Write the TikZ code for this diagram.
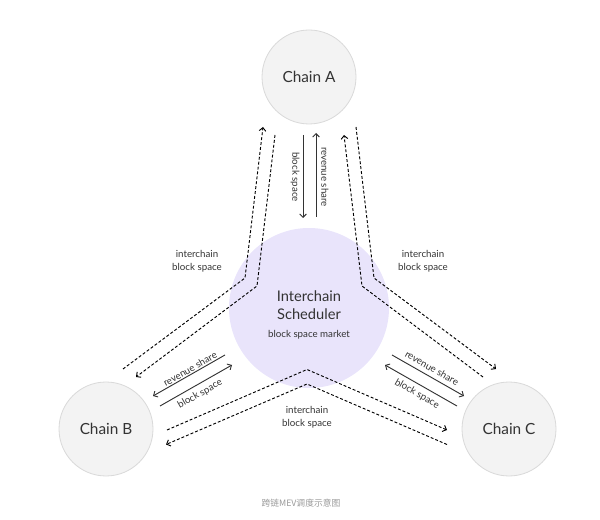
\documentclass[tikz,border=0pt]{standalone}
\usepackage{fontspec}
\setmainfont{Lato}
\newfontfamily\cjkfont{Noto Sans CJK SC}
\usepackage{tikz}
\usetikzlibrary{arrows.meta,positioning,calc}
\definecolor{chainfill}{HTML}{F3F3F3}
\definecolor{chainline}{HTML}{D9D9D9}
\definecolor{hubfill}{HTML}{E9E4FB}
\definecolor{ink}{HTML}{333333}
\definecolor{capt}{HTML}{999999}

\begin{document}
\begin{tikzpicture}[
  x=0.75pt,y=-0.75pt,
  font=\fontsize{7}{9}\selectfont,
  every node/.style={align=center,text=ink},
  chain/.style={circle,draw=chainline,fill=chainfill,line width=0.6pt,
               minimum size=70.5pt,inner sep=0pt,font=\fontsize{11.5}{14}\selectfont},
  hub/.style={circle,fill=hubfill,minimum size=120pt,inner sep=0pt},
  arr/.style={-{Straight Barb[length=2.5pt,width=5pt]},line width=0.7pt,ink},
  xfer/.style={-{Straight Barb[length=2.5pt,width=5pt]},line width=0.7pt,black,
               dash pattern=on 2.2pt off 1.5pt},
  lbl/.style={font=\fontsize{7.3}{9.6}\selectfont}
]
\useasboundingbox (0,0) rectangle (600,520);

% Nodes
\node[hub] (hub) at (309,308) {};
\node[font=\fontsize{11}{13.5}\selectfont] (hubname) at (309,305) {Interchain\\Scheduler};
\node[lbl] (market) at (309,335) {block space market};

\node[chain] (cA) at (309,77)  {Chain A};
\node[chain] (cB) at (106,429) {Chain B};
\node[chain] (cC) at (509,429) {Chain C};

% LEFT: A <-> B interchain block space
\coordinate (abB) at (123,369); \coordinate (abK) at (245,278); \coordinate (abA) at (263,127);
\coordinate (baA) at (275,135); \coordinate (baK) at (257,286); \coordinate (baB) at (136,377);
\draw[xfer] (abB) -- (abK) -- (abA);
\draw[xfer] (baA) -- (baK) -- (baB);
\node[lbl] (abtxt) at (197,261) {interchain\\block space};

% RIGHT: A <-> C interchain block space
\coordinate (acA) at (356,127); \coordinate (acK) at (374,278); \coordinate (acC) at (496,369);
\coordinate (caC) at (483,377); \coordinate (caK) at (362,286); \coordinate (caA) at (344,135);
\draw[xfer] (acA) -- (acK) -- (acC);
\draw[xfer] (caC) -- (caK) -- (caA);
\node[lbl] (actxt) at (423,261) {interchain\\block space};

% BOTTOM: B <-> C interchain block space
\coordinate (bcB) at (167,430);   \coordinate (bcK) at (307,369.5); \coordinate (bcC) at (447,430);
\coordinate (cbC) at (447,444.5); \coordinate (cbK) at (307,384);   \coordinate (cbB) at (166,444.5);
\draw[xfer] (bcB) -- (bcK) -- (bcC);
\draw[xfer] (cbC) -- (cbK) -- (cbB);
\node[lbl] (bctxt) at (307,417) {interchain\\block space};

% Scheduler <-> chains
\coordinate (aBs1) at (303,135); \coordinate (aBs2) at (303,218);
\coordinate (aRs1) at (316,217); \coordinate (aRs2) at (316,133);
\draw[arr] (aBs1) -- (aBs2);
\draw[arr] (aRs1) -- (aRs2);
\node[lbl,rotate=-90] (aBtxt) at (295,177) {block space};
\node[lbl,rotate=-90] (aRtxt) at (325,177) {revenue share};

\coordinate (bRs1) at (225,355); \coordinate (bRs2) at (153,396);
\coordinate (bBs1) at (160,406); \coordinate (bBs2) at (232,365);
\draw[arr] (bRs1) -- (bRs2);
\draw[arr] (bBs1) -- (bBs2);
\node[lbl,rotate=29.7] (bRtxt) at (190,369) {revenue share};
\node[lbl,rotate=29.7] (bBtxt) at (200,394) {block space};

\coordinate (cRs1) at (392,355); \coordinate (cRs2) at (464,396);
\coordinate (cBs1) at (457,406); \coordinate (cBs2) at (385,365);
\draw[arr] (cRs1) -- (cRs2);
\draw[arr] (cBs1) -- (cBs2);
\node[lbl,rotate=-29.7] (cRtxt) at (432,368) {revenue share};
\node[lbl,rotate=-29.7] (cBtxt) at (417,394) {block space};

% Caption
\node[font=\cjkfont\fontsize{6.6}{8}\selectfont,text=capt] (cap) at (301,503) {跨链MEV调度示意图};
\end{tikzpicture}
\end{document}
